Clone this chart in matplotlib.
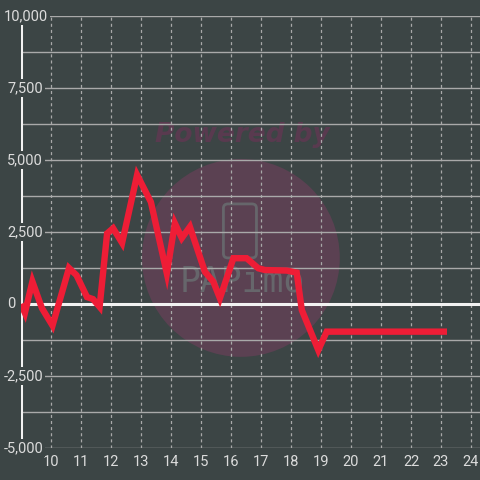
import matplotlib
matplotlib.use("Agg")
import matplotlib.pyplot as plt
from matplotlib.patches import Ellipse, FancyBboxPatch

plt.rcParams['lines.scale_dashes'] = False

# ---- data ----
hours = [9.0, 9.13, 9.38, 9.7, 10.05, 10.6, 10.85, 11.2, 11.4, 11.62, 11.87, 12.07,
         12.37, 12.87, 13.33, 13.86, 14.13, 14.36, 14.63, 15.13, 15.41, 15.63,
         16.08, 16.52, 16.91, 17.13, 17.86, 18.19, 18.36, 18.91, 19.19, 23.2]
values = [0, -310, 780, -150, -750, 1250, 1000, 240, 170, -100, 2450, 2630,
          2120, 4480, 3540, 1065, 2800, 2290, 2680, 1120, 775, 200,
          1590, 1590, 1240, 1180, 1160, 1090, -210, -1600, -960, -960]
x_ticks = list(range(10, 25))
y_ticks = [10000, 7500, 5000, 2500, 0, -2500, -5000]
y_labels = ["10,000", "7,500", "5,000", "2,500", "0", "-2,500", "-5,000"]
y_minor = [8750, 6250, 3750, 1250, -1250, -3750]

BG = "#3c4545"
GRID = "#a9a9a9"
TXT = "#dcdcdc"
RED = "#ee1d36"

# right edge (pixels from figure left) of each y label
label_right_px = {"10,000": 48, "0": 15}

fig = plt.figure(figsize=(4.8, 4.8), dpi=100, facecolor=BG)
ax = fig.add_axes([21/480, 32/480, 459/480, 432/480])
ax.set_facecolor(BG)
ax.set_xlim(9, 24.3)
ax.set_ylim(-5000, 10000)
for s in ax.spines.values():
    s.set_visible(False)

# watermark
ax.add_patch(Ellipse((0.479, 0.44), 0.431, 0.458, transform=ax.transAxes,
                     facecolor="#5b4152", edgecolor="none", zorder=0.5))
ax.text(0.483, 0.725, "Powered by", transform=ax.transAxes, ha="center", va="center",
        fontsize=19, fontweight="bold", fontstyle="italic", color="#593a4f",
        family="DejaVu Sans", zorder=0.6)
ax.add_patch(FancyBboxPatch((0.441, 0.44), 0.072, 0.125, transform=ax.transAxes,
                            boxstyle="round,pad=0,rounding_size=0.01",
                            facecolor="none", edgecolor="#66666b", lw=2.0, zorder=0.6))
ax.text(0.481, 0.385, "PAPimo", transform=ax.transAxes, ha="center", va="center",
        fontsize=25, color="#66666b", family="DejaVu Sans Mono", zorder=0.6)

# grid
ax.set_yticks(y_ticks + y_minor)
ax.set_xticks(x_ticks)
ax.grid(axis="y", color=GRID, lw=1.0, ls="-")
ax.grid(axis="x", color=GRID, lw=0.9, ls=(0, (2.2, 2.2)))
ax.tick_params(axis="y", length=0, labelleft=False)
ax.tick_params(axis="x", length=0, pad=5, labelcolor=TXT, labelsize=10.5)
for lab in ax.get_xticklabels():
    lab.set_family("Roboto")

# axis lines
ax.axvline(9, color="#f2f2f2", lw=2.2, zorder=3)
ax.axhline(0, color="#f2f2f2", lw=2.2, zorder=3)

# y labels
for v, t in zip(y_ticks, y_labels):
    px = label_right_px.get(t, 43)
    ax.text(9 + (px - 21) / 30, v, t, ha="right", va="center", fontsize=10.5,
            color=TXT, family="Roboto", zorder=5,
            bbox=dict(facecolor=BG, edgecolor="none", pad=1.2))

ax.plot(hours, values, color=RED, lw=4.6, solid_joinstyle="miter",
        solid_capstyle="butt", zorder=4)

fig.savefig("out.png", dpi=100, facecolor=BG)
